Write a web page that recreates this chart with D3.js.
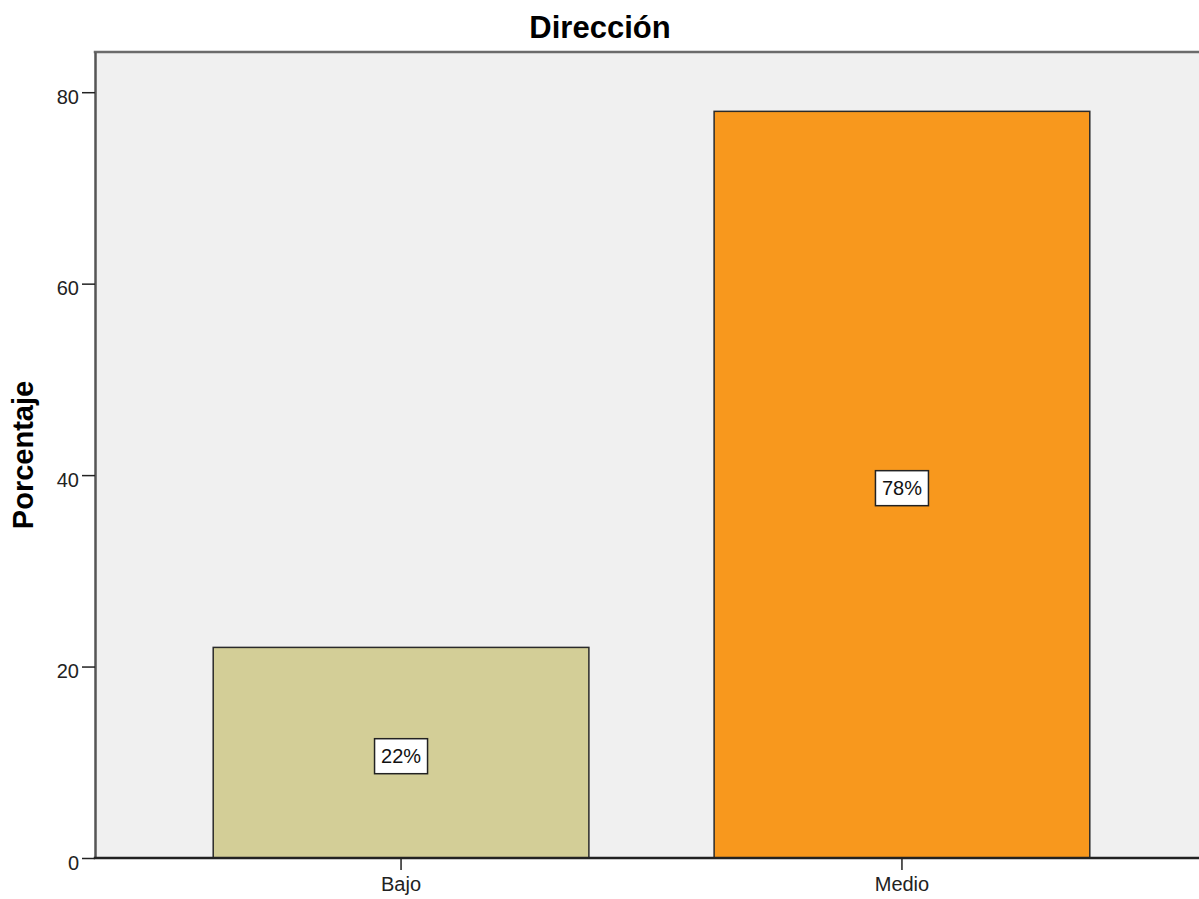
<!DOCTYPE html>
<html>
<head>
<meta charset="utf-8">
<script src="https://cdn.jsdelivr.net/npm/d3@7"></script>
<style>
  html, body { margin: 0; padding: 0; background: #fff; }
  svg { display: block; font-family: "Liberation Sans", Arial, sans-serif; }
</style>
</head>
<body>
<svg id="chart" width="1199" height="899"></svg>
<script>
const categories = ["Bajo", "Medio"];
const values = [22, 78];
const labels = ["22%", "78%"];
const colors = ["#D3CE97", "#F8981D"];
const yTicks = [0, 20, 40, 60, 80];
const title = "Dirección";
const yTitle = "Porcentaje";

(function () {
const svg = d3.select("#chart");
const W = 1199, H = 899;
const pLeft = 95, pTop = 52, pBottom = 858;

const x = d3.scaleBand().domain(categories).range([pLeft, 1208])
  .paddingInner(0.25).paddingOuter(0.236);
const y = d3.scaleLinear().domain([0, 84.2]).range([pBottom, pTop]);

// plot background
svg.append("rect").attr("x", pLeft).attr("y", pTop)
  .attr("width", W - pLeft).attr("height", pBottom - pTop)
  .attr("fill", "#F0F0F0");

// bars
svg.selectAll("rect.bar").data(categories).enter().append("rect")
  .attr("class", "bar")
  .attr("x", d => x(d))
  .attr("y", (d, i) => y(values[i]))
  .attr("width", x.bandwidth())
  .attr("height", (d, i) => y(0) - y(values[i]))
  .attr("fill", (d, i) => colors[i])
  .attr("stroke", "#2a2a2a")
  .attr("stroke-width", 1.5);

// frame top border
svg.append("line").attr("x1", pLeft - 1.25).attr("x2", W).attr("y1", pTop).attr("y2", pTop)
  .attr("stroke", "#6b6b6b").attr("stroke-width", 2.5);

// y axis
const yAxis = d3.axisLeft(y).tickValues(yTicks).tickSize(13).tickSizeOuter(0).tickPadding(3);
const gy = svg.append("g").attr("transform", `translate(${pLeft},0)`).call(yAxis);
gy.select(".domain").attr("stroke", "#555").attr("stroke-width", 2.5);
gy.selectAll(".tick line").attr("stroke", "#222").attr("stroke-width", 1.5);
gy.selectAll(".tick text").attr("font-size", 20).attr("fill", "#222")
  .attr("font-family", "Liberation Sans, Arial, sans-serif").attr("dy", "0.55em");

// x axis
const xAxis = d3.axisBottom(x).tickSize(12).tickPadding(7).tickSizeOuter(0);
const gx = svg.append("g").attr("transform", `translate(0,${pBottom})`).call(xAxis);
gx.select(".domain").attr("stroke", "#222").attr("stroke-width", 2.5)
  .attr("d", `M${pLeft - 1.25},0H${W}`);
gx.selectAll(".tick line").attr("stroke", "#222").attr("stroke-width", 1.5);
gx.selectAll(".tick text").attr("font-size", 20).attr("fill", "#222")
  .attr("font-family", "Liberation Sans, Arial, sans-serif");

// value labels
const lab = svg.selectAll("g.lab").data(categories).enter().append("g")
  .attr("class", "lab")
  .attr("transform", (d, i) => `translate(${x(d) + x.bandwidth() / 2},${y(values[i] / 2) + 3.5})`);
lab.append("rect").attr("x", -26.5).attr("y", -17.5).attr("width", 53).attr("height", 35)
  .attr("fill", "#fff").attr("stroke", "#222").attr("stroke-width", 1.5);
lab.append("text").attr("text-anchor", "middle").attr("dy", "0.36em")
  .attr("font-size", 20).attr("fill", "#111")
  .text((d, i) => labels[i]);

// title
svg.append("text").attr("x", 600).attr("y", 38).attr("text-anchor", "middle")
  .attr("font-size", 31).attr("font-weight", "bold").attr("fill", "#000")
  .text(title);

// y title
svg.append("text").attr("transform", `translate(33,${(383 + 527) / 2}) rotate(-90)`)
  .attr("text-anchor", "middle")
  .attr("font-size", 29).attr("font-weight", "bold").attr("fill", "#000")
  .text(yTitle);
})();
</script>
</body>
</html>
